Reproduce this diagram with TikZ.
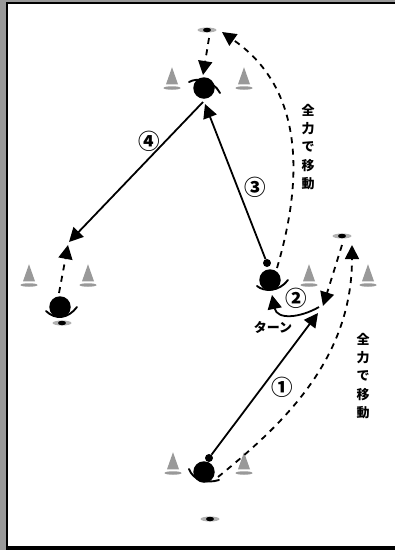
\documentclass[tikz,border=0pt]{standalone}
\usepackage{fontspec}
\newfontfamily\jpfont{Noto Sans CJK JP}
\usetikzlibrary{shapes, arrows.meta}

\tikzset{
  body/.style={circle, fill=black, minimum size=21.5pt, inner sep=0pt},
  ball/.style={circle, fill=black, minimum size=8pt, inner sep=0pt},
  cone/.style={isosceles triangle, shape border rotate=90, isosceles triangle apex angle=38,
    isosceles triangle stretches, fill=black!40, minimum height=17pt, minimum width=12pt, inner sep=0pt},
  conebase/.style={ellipse, fill=black!40, minimum width=17pt, minimum height=3.5pt, inner sep=0pt},
  markbase/.style={ellipse, fill=black!30, minimum width=19pt, minimum height=5pt, inner sep=0pt},
  markdot/.style={ellipse, fill=black, minimum width=8pt, minimum height=4.5pt, inner sep=0pt},
  arm/.style={line width=1.9pt, line cap=round},
  run/.style={line width=1.8pt, -{Triangle[length=14pt,width=14pt]}},
  dash run/.style={run, dash pattern=on 6pt off 5.5pt},
  num/.style={font=\jpfont\bfseries\fontsize{21.5}{21.5}\selectfont, inner sep=0pt},
  words/.style={font=\jpfont\bfseries\fontsize{13}{18.3}\selectfont, align=center, inner sep=0pt},
}

\begin{document}
\begin{tikzpicture}[x=1pt, y=-1pt]
\useasboundingbox (0,0) rectangle (395,550);

\fill [black!40] (0,0) rectangle (395,2);
\fill [black!40] (0,0) rectangle (6,550);
\fill [black] (6,2) rectangle (395,4);
\fill [black] (6,2) rectangle (8,550);
\fill [black] (6,546) rectangle (395,550);

% start
\node [body] (bodya) at (204,472) {};
\node [ball] (balla) at (209,458) {};
\draw [arm] (189,469) .. controls (193,480) and (206,484) .. (219,480);
\node [cone] (conea) at (173,465) {};
\node [conebase] at ([shift={(0,8)}]conea) {};
\node [cone] (coneb) at (244,465) {};
\node [conebase] at ([shift={(0,8)}]coneb) {};
\node [markbase] (marka) at (210,519) {};
\node [markdot] at (marka) {};

% turn
\node [body] (bodyb) at (270,280) {};
\node [ball] (ballb) at (267,263) {};
\draw [arm] (257,286) .. controls (264,292) and (279,292) .. (288,280);
\node [cone] (conec) at (309,277) {};
\node [conebase] at ([shift={(0,8)}]conec) {};
\node [cone] (coned) at (368,277) {};
\node [conebase] at ([shift={(0,8)}]coned) {};
\node [markbase] (markb) at (342,236) {};
\node [markdot] at (markb) {};

% top
\node [body] (bodyc) at (204,88) {};
\draw [arm] (189,82) .. controls (198,77) and (213,80) .. (220,93);
\node [cone] (conee) at (172,80) {};
\node [conebase] at ([shift={(0,8)}]conee) {};
\node [cone] (conef) at (244,80) {};
\node [conebase] at ([shift={(0,8)}]conef) {};
\node [markbase] (markc) at (207,30) {};
\node [markdot] at (markc) {};

% left
\node [body] (bodyd) at (60,307) {};
\draw [arm] (46,311) .. controls (55,320) and (68,319) .. (77,307);
\node [cone] (coneg) at (29,277) {};
\node [conebase] at ([shift={(0,8)}]coneg) {};
\node [cone] (coneh) at (88,277) {};
\node [conebase] at ([shift={(0,8)}]coneh) {};
\node [markbase] (markd) at (62,323) {};
\node [markdot] at (markd) {};

% ends of the runs
\coordinate (tipa) at (318,313);
\coordinate (taila) at (218,477);
\coordinate (tipb) at (352,245);
\coordinate (tailb) at (342,245);
\coordinate (tipc) at (323,306);
\coordinate (tailc) at (319,307);
\coordinate (tipd) at (272,295);
\coordinate (taild) at (277,268);
\coordinate (bende) at (232,39);
\coordinate (tipe) at (222,32);
\coordinate (tipf) at (205,104);
\coordinate (tailf) at (203,102);
\coordinate (tipg) at (69,242);
\coordinate (tailg) at (209,38);
\coordinate (tiph) at (203,75);
\coordinate (tailh) at (59,293);
\coordinate (tipi) at (68,245);

\draw [run] (balla) -- (tipa);
\draw [dash run] (taila) .. controls (282,425) and (352,360) .. (tipb);
\draw [dash run] (tailb) -- (tipc);
\draw [run] (tailc) .. controls (300,318) and (277,320) .. (tipd);
\draw [dash run] (taild) .. controls (306,170) and (300,85) .. (bende) -- (tipe);
\draw [run] (ballb) -- (tipf);
\draw [run] (tailf) -- (tipg);
\draw [dash run] (tailg) -- (tiph);
\draw [dash run] (tailh) -- (tipi);

\node [num] (numa) at (282,387) {①};
\node [num] (numb) at (296,298) {②};
\node [num] (numc) at (255,187) {③};
\node [num] (numd) at (149,141) {④};

\node [words] (wordsa) at (308,147) {全\\力\\で\\移\\動};
\node [words] (wordsb) at (363,376) {全\\力\\で\\移\\動};
\node [words] (wordsc) at (273,327) {ターン};
\end{tikzpicture}
\end{document}
